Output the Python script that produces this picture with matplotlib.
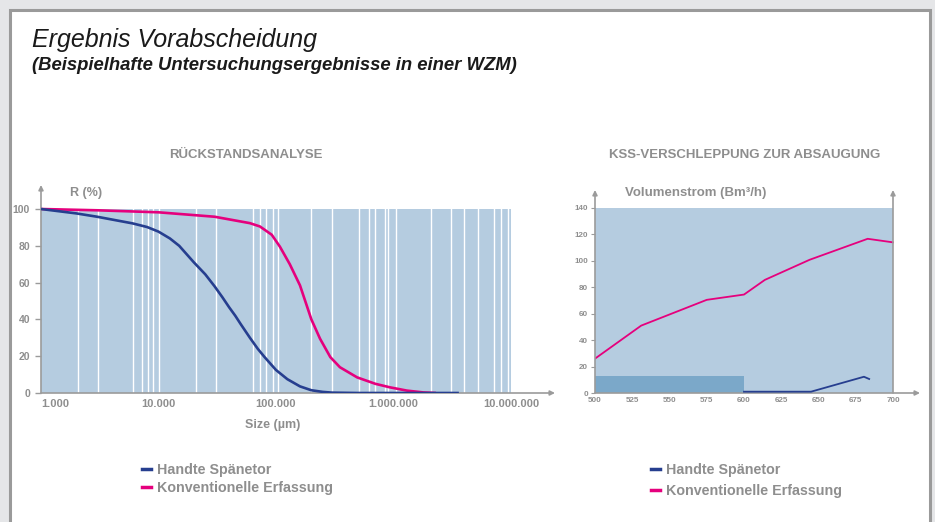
import numpy as np
import matplotlib
matplotlib.use('Agg')
from matplotlib import pyplot as plt
from matplotlib.patches import Rectangle
from matplotlib.lines import Line2D

# --- data ---
size_handte = [1e3, 2e3, 3e3, 4e3, 6e3, 8e3, 1e4, 1.25e4, 1.5e4, 2e4, 2.5e4,
               3e4, 3.5e4, 4e4, 4.5e4, 5e4, 6e4, 7e4, 8e4, 9e4, 1e5, 1.25e5,
               1.6e5, 2e5, 2.5e5, 3e5, 5e5, 3.6e6]
r_handte = [100, 97.6, 95.8, 94.3, 92.2, 90.2, 87.7, 84, 80, 71, 64.5,
            58, 52, 46.5, 42, 37.5, 30, 24, 19.5, 15.8, 12.5, 7.5,
            3.6, 1.5, 0.6, 0.2, 0, 0]
size_konv = [1e3, 3e3, 1e4, 3e4, 6e4, 7.3e4, 9.2e4, 1.08e5, 1.31e5, 1.6e5,
             2e5, 2.37e5, 2.9e5, 3.5e5, 4.9e5, 7e5, 9.3e5, 1.3e6, 1.8e6, 2.3e6]
r_konv = [100, 99.3, 98.2, 95.8, 92.3, 90.5, 86, 79.5, 70, 58.5,
          40, 29.5, 19.5, 14, 8.5, 5, 3.1, 1.3, 0.3, 0]
grid_sizes = [2.07e3, 3.05e3, 6.1e3, 7.3e3, 8.2e3, 9.06e3, 1e4,
              2.07e4, 3.07e4, 6.35e4, 7.3e4, 8.2e4, 9.4e4, 1.04e5,
              2e5, 3e5, 5.1e5, 6.2e5, 7e5, 8.4e5, 9e5, 1.04e6,
              2.07e6, 3.1e6, 4e6, 5.2e6, 7.2e6, 8.2e6, 9.4e6]
size_ticks = [1e3, 1e4, 1e5, 1e6, 1e7]
size_labels = ['1.000', '10.000', '100.000', '1.000.000', '10.000.000']
r_ticks = [0, 20, 40, 60, 80, 100]

flow_konv = [500, 531, 575, 600, 614, 644, 683, 700]
kss_konv = [26, 51, 70.5, 74.5, 85.6, 100.8, 116.7, 114]
flow_handte = [600, 645, 680.5, 684]
kss_handte = [1, 1, 12.3, 10.6]
bar_flow = [500, 600]
bar_kss = 12.5
flow_ticks = [500, 525, 550, 575, 600, 625, 650, 675, 700]
kss_ticks = [0, 20, 40, 60, 80, 100, 120, 140]

BLUE = '#263e8f'
PINK = '#e5007d'
FILL = '#b5cce0'
BAR = '#7ba8c9'
GRAY = '#8e8e8e'
AXG = '#9b9b9b'
FONT = 'Liberation Sans'

W, H = 935, 522
fig = plt.figure(figsize=(W / 100, H / 100), dpi=100, facecolor='#e5e6e8')
plt.rcParams['font.family'] = [FONT, 'DejaVu Sans']


def box(x0, y0, x1, y1):
    # pixel box (from top-left) to figure fraction rect
    return [x0 / W, 1 - y1 / H, (x1 - x0) / W, (y1 - y0) / H]


panel = Rectangle((9.5 / W, -0.05), 920.5 / W, 1.05 - 9.5 / H,
                  transform=fig.transFigure, facecolor='white',
                  edgecolor='#9a9a9a', lw=2.2, zorder=-5)
fig.patches.append(panel)

fig.text(32 / W, 1 - 46.7 / H, 'Ergebnis Vorabscheidung', fontsize=18,
         style='italic', color='#1a1a1a', va='baseline')
fig.text(32 / W, 1 - 70 / H, '(Beispielhafte Untersuchungsergebnisse in einer WZM)',
         fontsize=13.3, style='italic', weight='bold', color='#1a1a1a', va='baseline')
fig.text(246 / W, 1 - 155 / H, 'RÜCKSTANDSANALYSE', fontsize=9.5, weight='bold',
         color=GRAY, ha='center', va='center')
fig.text(745 / W, 1 - 155 / H, 'KSS-VERSCHLEPPUNG ZUR ABSAUGUNG', fontsize=9.5,
         weight='bold', color=GRAY, ha='center', va='center')


def arrow(ax, start, end):
    ax.annotate('', xy=end, xytext=start, xycoords='data',
                arrowprops=dict(arrowstyle='-|>', color=AXG, lw=1.2,
                                mutation_scale=7, shrinkA=0, shrinkB=0),
                annotation_clip=False)


def legend(ax, x, y, spacing):
    ax.legend(handles=[Line2D([], [], color=BLUE, lw=2.5),
                       Line2D([], [], color=PINK, lw=2.5)],
              labels=['Handte Spänetor', 'Konventionelle Erfassung'],
              loc='upper left', bbox_to_anchor=(x / W, 1 - y / H),
              bbox_transform=fig.transFigure, frameon=False, handlelength=0.6,
              handletextpad=0.45, labelspacing=spacing, borderpad=0,
              borderaxespad=0, prop={'weight': 'bold', 'size': 10.3},
              labelcolor=GRAY)


# --- left: Rückstandsanalyse ---
ax1 = fig.add_axes(box(41, 185, 555, 393))
ax1.set_xscale('log')
x1max = 1e3 * 10 ** ((555 - 41) / 117.5)
ax1.set_xlim(1e3, x1max)
ax1.set_ylim(0, (393 - 185) / 1.84)
ax1.patch.set_alpha(0)
for s in ax1.spines.values():
    s.set_visible(False)
ax1.fill_between([1e3, 1e7], 0, 100, color=FILL, lw=0, zorder=1)
for g in grid_sizes:
    ax1.plot([g, g], [0, 100], color='white', lw=1, zorder=2)
ax1.plot(size_konv, r_konv, color=PINK, lw=1.9, zorder=3, solid_capstyle='butt')
ax1.plot(size_handte, r_handte, color=BLUE, lw=1.9, zorder=4, solid_capstyle='butt')
arrow(ax1, (1e3, 0), (x1max, 0))
arrow(ax1, (1e3, 0), (1e3, (393 - 185) / 1.84))
ax1.set_xticks(size_ticks)
ax1.set_xticklabels(size_labels)
ax1.xaxis.set_minor_locator(matplotlib.ticker.NullLocator())
ax1.get_xticklabels()[0].set_ha('left')
ax1.tick_params(axis='x', length=0, pad=4, labelsize=8, labelcolor=GRAY)
ax1.set_yticks(r_ticks)
ax1.tick_params(axis='y', length=4, width=1, color=AXG, pad=4, labelsize=7.5,
                labelcolor=GRAY)
for t in ax1.get_xticklabels() + ax1.get_yticklabels():
    t.set_fontweight('bold')
fig.text(70 / W, 1 - 193 / H, 'R (%)', fontsize=9, weight='bold', color=GRAY,
         va='center')
fig.text(273 / W, 1 - 425 / H, 'Size (µm)', fontsize=9, weight='bold', color=GRAY,
         ha='center', va='center')
legend(ax1, 142, 463, 0.26)

# --- right: KSS-Verschleppung ---
ax2 = fig.add_axes(box(595, 190, 920, 393))
x2max = 500 + 325 / 1.49
y2max = 203 / (185 / 140)
ax2.set_xlim(500, x2max)
ax2.set_ylim(0, y2max)
ax2.patch.set_alpha(0)
for s in ax2.spines.values():
    s.set_visible(False)
ax2.fill_between([500, 700], 0, 140, color=FILL, lw=0, zorder=1)
ax2.fill_between(bar_flow, 0, bar_kss, color=BAR, lw=0, zorder=2)
ax2.plot(flow_konv, kss_konv, color=PINK, lw=1.3, zorder=3)
ax2.plot(flow_handte, kss_handte, color=BLUE, lw=1.3, zorder=4)
arrow(ax2, (500, 0), (x2max, 0))
arrow(ax2, (500, 0), (500, y2max))
arrow(ax2, (700, 0), (700, y2max))
ax2.set_xticks(flow_ticks)
ax2.set_yticks(kss_ticks)
ax2.tick_params(axis='x', length=0, pad=3, labelsize=5.8, labelcolor=GRAY)
ax2.tick_params(axis='y', length=3, width=0.8, color=AXG, pad=2, labelsize=5.8,
                labelcolor=GRAY)
for t in ax2.get_xticklabels() + ax2.get_yticklabels():
    t.set_fontweight('bold')
fig.text(625 / W, 1 - 193 / H, 'Volumenstrom (Bm³/h)', fontsize=9.5, weight='bold',
         color=GRAY, va='center')
legend(ax2, 651, 463, 0.47)

fig.savefig('out.png', dpi=100, facecolor=fig.get_facecolor())
